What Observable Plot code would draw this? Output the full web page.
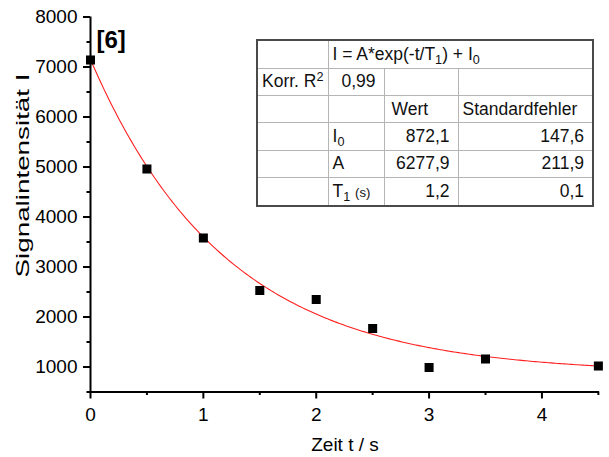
<!DOCTYPE html>
<html>
<head>
<meta charset="utf-8">
<script src="https://cdn.jsdelivr.net/npm/d3@7"></script>
<script src="https://cdn.jsdelivr.net/npm/@observablehq/plot@0.6"></script>
<style>
  html, body { margin: 0; padding: 0; background: #fff; }
  #wrap { position: relative; width: 609px; height: 457px; overflow: hidden; font-family: "Liberation Sans", Arial, sans-serif; }
  #fit { position: absolute; left: 256px; top: 39px; width: 336px; height: 168px;
         border-collapse: collapse; table-layout: fixed; font-size: 17.5px; color: #111;
         border: 2px solid #4a4a4a; background: #fff; }
  #fit td { border: 1px solid #b5b5b5; padding: 0 4px; white-space: nowrap; overflow: visible; vertical-align: middle; line-height: 1; }
  #fit td.r { text-align: right; padding-right: 8px; }
  #fit sub { font-size: 0.72em; vertical-align: -0.35em; line-height: 0; }
  #fit sup { font-size: 0.72em; vertical-align: 0.45em; line-height: 0; }
  #fit .small { font-size: 0.75em; }
</style>
</head>
<body>
<div id="wrap"></div>
<script>
// measured points
const times = [0, 0.5, 1, 1.5, 2, 2.5, 3, 3.5, 4.5];
const intensities = [7140, 4960, 3580, 2530, 2350, 1770, 990, 1160, 1020];

// fit parameters shown in the table: I = A*exp(-t/T1) + I0
const fitA = 6277.9;
const fitT1 = 1.2;
const fitI0 = 872.1;
const fitR2 = "0,99";
const fitErrors = ["147,6", "211,9", "0,1"];
const fitValues = ["872,1", "6277,9", "1,2"];

// axes
const xDomain = [0, 4.51];
const yDomain = [500, 8000];
const xMajorTicks = [0, 1, 2, 3, 4];
const xMinorTicks = [0.5, 1.5, 2.5, 3.5, 4.5];
const yMajorTicks = [1000, 2000, 3000, 4000, 5000, 6000, 7000, 8000];
const yMinorTicks = [500, 1500, 2500, 3500, 4500, 5500, 6500, 7500];

const xLabel = "Zeit t / s";
const yLabel = "Signalintensität I";
const panelTag = "[6]";

const points = times.map((t, i) => ({t, I: intensities[i]}));
const curve = d3.range(0, 4.5 + 1e-9, 0.02).map(t => ({t, I: fitA * Math.exp(-t / fitT1) + fitI0}));

const chart = Plot.plot({
  width: 609,
  height: 457,
  marginLeft: 90,
  marginRight: 10,
  marginTop: 16.5,
  marginBottom: 65.5,
  x: {domain: xDomain},
  y: {domain: yDomain},
  style: {fontFamily: "'Liberation Sans', Arial, sans-serif", fontSize: "19px", color: "#000", background: "#fff"},
  marks: [
    Plot.line(curve, {x: "t", y: "I", stroke: "#ff1f1f", strokeWidth: 1.1}),
    Plot.ruleX([0], {strokeWidth: 2}),
    Plot.ruleY([500], {strokeWidth: 2}),
    Plot.axisY({ticks: yMajorTicks, tickSize: 7, tickPadding: 6, strokeWidth: 2, fontSize: 19, label: null, tickFormat: d => String(d)}),
    Plot.axisY({ticks: yMinorTicks, tickSize: 3.5, strokeWidth: 2, label: null, tickFormat: () => ""}),
    Plot.axisX({ticks: xMajorTicks, tickSize: 7, tickPadding: 8, strokeWidth: 2, fontSize: 19, label: null, tickFormat: d => String(d)}),
    Plot.axisX({ticks: xMinorTicks, tickSize: 3.5, strokeWidth: 2, label: null, tickFormat: () => ""}),
    Plot.dot(points, {x: "t", y: "I", symbol: "square", r: 5.1, fill: "#000", stroke: "none"}),
    Plot.text([yLabel], {frameAnchor: "left", rotate: -90, dx: -67, dy: 73, textAnchor: "start", fontSize: 18.5}),
    Plot.text([xLabel], {frameAnchor: "bottom", dy: 59, fontSize: 19}),
    Plot.text([panelTag], {frameAnchor: "top-left", dx: 6, dy: 14, textAnchor: "start", fontSize: 24, fontWeight: "bold"})
  ]
});

// stretch the y label along its length, as in the reference
d3.select(chart).selectAll("text").filter(function() { return this.textContent === yLabel; })
  .attr("textLength", 204).attr("lengthAdjust", "spacingAndGlyphs");

const wrap = document.getElementById("wrap");
wrap.appendChild(chart);

// fit results table
const tbl = document.createElement("table");
tbl.id = "fit";
tbl.innerHTML = `
  <colgroup><col style="width:71px"><col style="width:56px"><col style="width:74px"><col style="width:135px"></colgroup>
  <tr><td></td><td colspan="3">I = A*exp(-t/T<sub>1</sub>) + I<sub>0</sub></td></tr>
  <tr><td>Korr. R<sup>2</sup></td><td class="r">${fitR2}</td><td></td><td></td></tr>
  <tr><td></td><td></td><td style="padding-left:7px">Wert</td><td>Standardfehler</td></tr>
  <tr><td></td><td>I<sub>0</sub></td><td class="r">${fitValues[0]}</td><td class="r">${fitErrors[0]}</td></tr>
  <tr><td></td><td>A</td><td class="r">${fitValues[1]}</td><td class="r">${fitErrors[1]}</td></tr>
  <tr><td></td><td>T<sub>1</sub> <span class="small">(s)</span></td><td class="r">${fitValues[2]}</td><td class="r">${fitErrors[2]}</td></tr>`;
wrap.appendChild(tbl);
</script>
</body>
</html>
